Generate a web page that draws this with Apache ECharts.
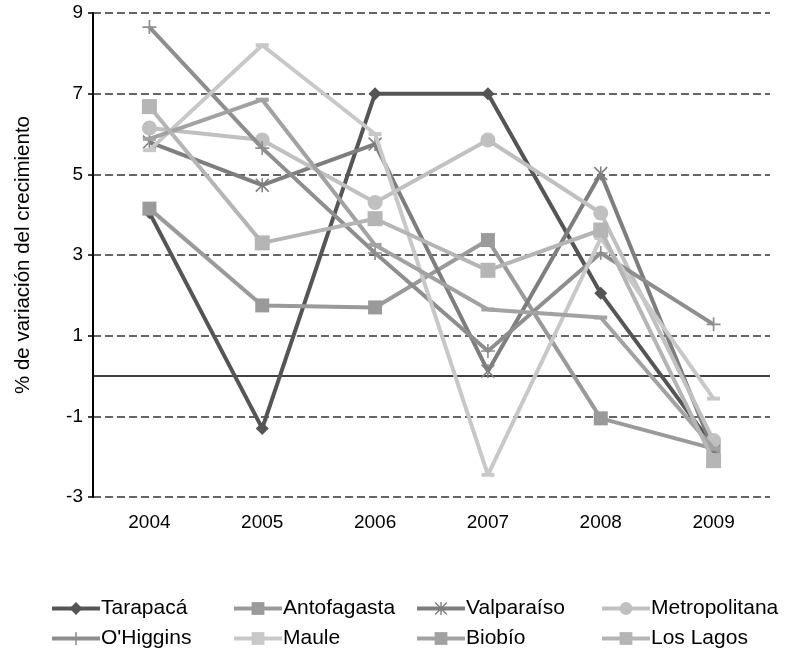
<!DOCTYPE html>
<html><head><meta charset="utf-8">
<script src="https://cdn.jsdelivr.net/npm/echarts@6/dist/echarts.min.js"></script>
<style>html,body{margin:0;padding:0;background:#fff}#c{width:788px;height:655px}</style>
</head><body><div id="c"></div>
<script>
const years = ['2004','2005','2006','2007','2008','2009'];
const tarapaca      = [4.05, -1.3, 7.0, 7.0, 2.05, -1.75];
const antofagasta   = [4.15, 1.75, 1.7, 3.37, -1.05, -1.8];
const valparaiso    = [5.8, 4.73, 5.75, 0.12, 5.02, -1.85];
const metropolitana = [6.15, 5.85, 4.3, 5.85, 4.04, -1.6];
const ohiggins      = [8.65, 5.65, 3.05, 0.62, 3.05, 1.28];
const maule         = [5.6, 8.2, 6.0, -2.45, 3.42, -0.56];
const biobio        = [5.88, 6.85, 3.25, 1.65, 1.45, -1.8];
const losLagos      = [6.68, 3.3, 3.9, 2.62, 3.62, -2.1];
const seriesNames = ['Tarapacá','Antofagasta','Valparaíso','Metropolitana',"O'Higgins",'Maule','Biobío','Los Lagos'];
const yTicks = [-3, -1, 1, 3, 5, 7, 9];

const plusPath = 'path://M4.4,0h1.2v10h-1.2z M0,4.4h10v1.2h-10z';
const starPath = 'path://M4.45,0h1.1v10h-1.1z M0,0.8L0.8,0L10,9.2L9.2,10Z M10,0.8L9.2,0L0,9.2L0.8,10Z';
const dashSym = 'rect';

const styles = [
  {color:'#555555', symbol:'diamond', symbolSize:13},
  {color:'#9a9a9a', symbol:'rect', symbolSize:14},
  {color:'#7e7e7e', symbol:starPath, symbolSize:14},
  {color:'#c0c0c0', symbol:'circle', symbolSize:15},
  {color:'#8e8e8e', symbol:plusPath, symbolSize:14},
  {color:'#c8c8c8', symbol:dashSym, symbolSize:[13,4]},
  {color:'#a2a2a2', symbol:dashSym, symbolSize:[13,4]},
  {color:'#b5b5b5', symbol:'rect', symbolSize:15}
];
const dataSets = [tarapaca, antofagasta, valparaiso, metropolitana, ohiggins, maule, biobio, losLagos];

const series = dataSets.map((d,i)=>({
  name: seriesNames[i], type:'line', data:d,
  symbol: styles[i].symbol, symbolSize: styles[i].symbolSize, showAllSymbol:true,
  lineStyle:{color:styles[i].color, width:4},
  itemStyle:{color:styles[i].color},
  emphasis:{disabled:true}, animation:false, z: 2+i
}));
series[0].markLine = {
  silent:true, symbol:['none','none'], label:{show:false},
  lineStyle:{color:'#000', type:'solid', width:1.5},
  data:[{yAxis:0}], z:1
};

const legendCols = [[0,4],[1,5],[2,6],[3,7]];
const legendLefts = [50, 232, 415, 600];
const legends = legendCols.map((c,k)=>({
  orient:'vertical', left:legendLefts[k], top:598, itemGap:9, padding:0,
  itemWidth:48, itemHeight:16,
  lineStyle:{width:4},
  data:c.map(i=>seriesNames[i]),
  textStyle:{fontFamily:'Liberation Sans', fontSize:21, color:'#000', padding:[0,0,0,-4]},
  selectedMode:false
}));

const chart = echarts.init(document.getElementById('c'), null, {renderer:'canvas'});
chart.setOption({
  animation:false,
  grid:{left:93, right:18, top:13, bottom:158, containLabel:false},
  legend: legends,
  xAxis:{
    type:'category', data:years, boundaryGap:true,
    axisLine:{show:false}, axisTick:{show:false},
    axisLabel:{fontFamily:'Liberation Sans', fontSize:19, color:'#000', margin:16},
    splitLine:{show:false}
  },
  yAxis:{
    type:'value', min:-3, max:9, interval:2,
    name:'% de variación del crecimiento', nameLocation:'middle', nameGap:59, nameRotate:90,
    nameTextStyle:{fontFamily:'Liberation Sans', fontSize:20.5, color:'#000'},
    axisLine:{show:true, lineStyle:{color:'#000', width:2}},
    axisTick:{show:true, length:5, lineStyle:{color:'#000', width:1.5}},
    axisLabel:{fontFamily:'Liberation Sans', fontSize:19, color:'#000', margin:10,
      formatter:v=>yTicks.includes(v)?String(v):''},
    splitLine:{show:true, lineStyle:{color:'#333', type:[8,4], width:1.5}}
  },
  series: series
});
</script></body></html>
